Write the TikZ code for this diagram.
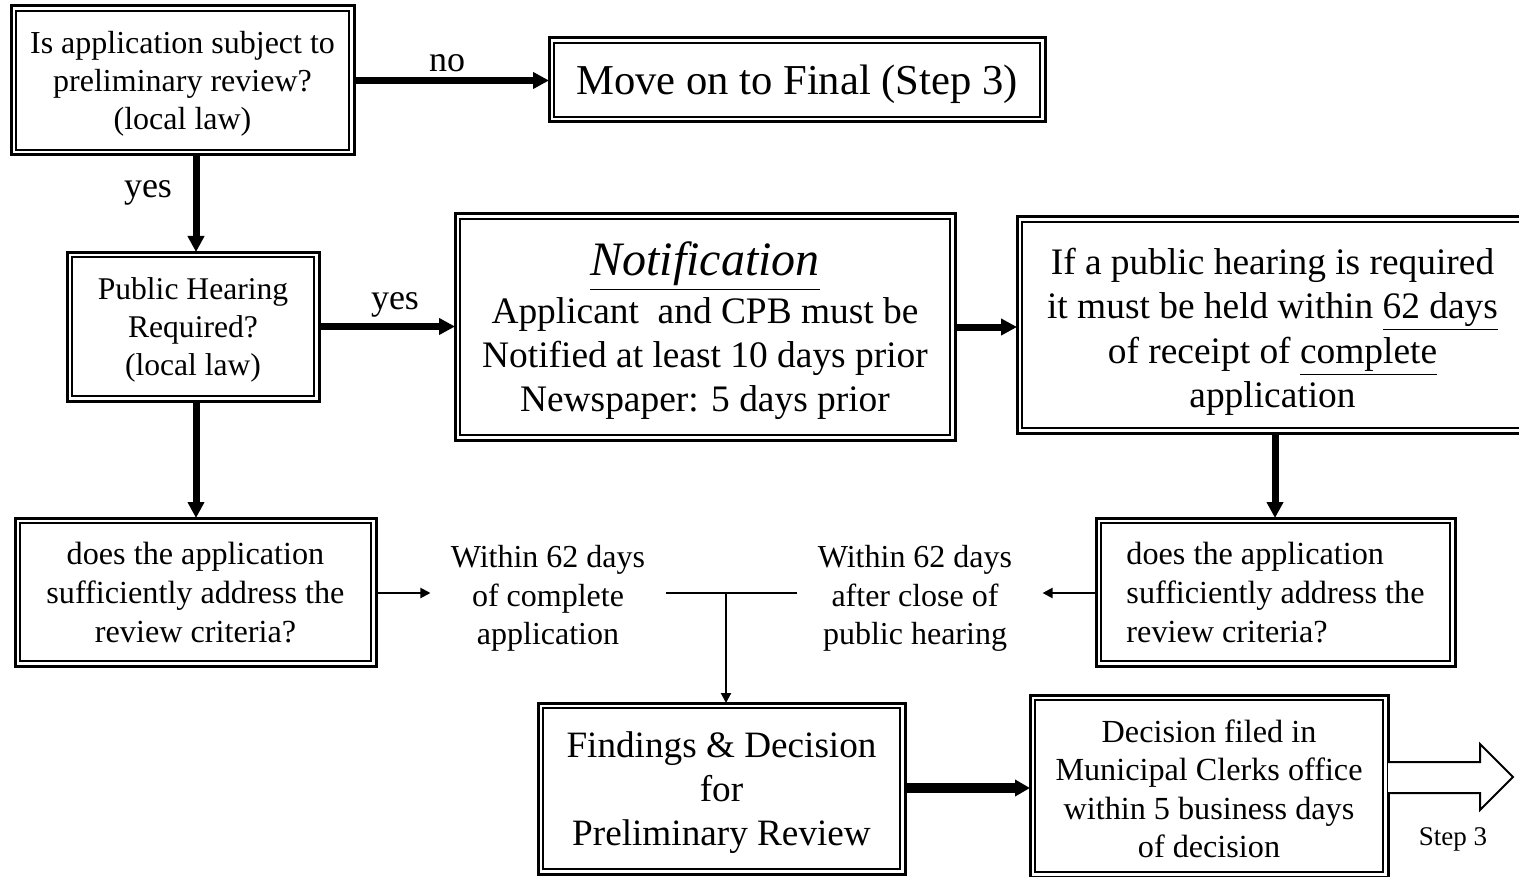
\documentclass[tikz,border=0pt]{standalone}
\usepackage{fontspec}
\setmainfont{Liberation Serif}
\usetikzlibrary{arrows.meta}

\newcommand\fs[2]{\fontsize{#1}{#2}\selectfont}

\begin{document}
\begin{tikzpicture}[x=0.5pt,y=-0.5pt,
  dbox/.style={draw, line width=1.5pt, inner sep=0pt, outer sep=0pt, align=center, text depth=0pt},
  wh/.style 2 args={minimum width=#1*0.5pt, minimum height=#2*0.5pt},
  innerline/.style={draw, line width=0.75pt},
  bigarrow/.style={line width=3.5pt, -{Triangle[length=8pt,width=8pt]}},
  hugearrow/.style={line width=5pt, -{Triangle[length=7.5pt,width=8pt]}},
  thinarrow/.style={line width=1pt, -{Triangle[length=5pt,width=5pt]}},
  lbl/.style={inner sep=0pt, align=center},
  note/.style={inner xsep=10pt, inner ysep=0pt, align=center, text depth=0pt, font=\fs{16}{19.25}}]

\clip (0,0) rectangle (1519,877);

% boxes
\node[dbox, wh={343}{149}, font=\fs{16}{19}] (A) at (182.5,80.5)
  {Is application subject to\\ preliminary review?\\ (local law)};
\node[dbox, wh={496}{84}, font=\fs{21.3}{24}] (B) at (797,80)
  {Move on to Final (Step 3)};
\node[dbox, wh={252}{149}, font=\fs{15.8}{19}] (C) at (193,326.5)
  {Public Hearing\\ Required?\\ (local law)};
\node[dbox, wh={500}{226}, font=\fs{18.7}{22}] (D) at (705,327)
  {{\fs{24}{26}\itshape\underline{Notification}}\\[2pt]
   Applicant\ \ and CPB must be\\ Notified at least 10 days prior\\ Newspaper: 5 days prior};
\node[dbox, wh={511}{216}, font=\fs{18.7}{22.2}] (E) at (1272.5,325)
  {\rule{0pt}{16pt}If a public hearing is required\\ it must be held within \underline{62 days}\\
   of receipt of \underline{complete}\\ application};
\node[dbox, wh={361}{148}, font=\fs{16.1}{19.5}] (G) at (195.5,592)
  {does the application\\ sufficiently address the\\ review criteria?};
\node[dbox, wh={359}{148}, font=\fs{16.1}{19.5}, align=left] (F) at (1275.5,592)
  {does the application\\ sufficiently address the\hspace*{10pt}\\ review criteria?};
\node[dbox, wh={367}{171}, font=\fs{18.6}{22}] (H) at (721.5,788.5)
  {Findings \& Decision\\ for\\ Preliminary Review};
\node[dbox, wh={358}{182}, font=\fs{16.1}{19.1}] (I) at (1209,786)
  {\rule{0pt}{14pt}Decision filed in\\ Municipal Clerks office\\ within 5 business days\\ of decision};

% inner lines of the double frames
\foreach \n in {A,B,C,D,E,F,G,H,I}
  \draw[innerline] ([shift={(5,5)}]\n.north west) rectangle ([shift={(-5,-5)}]\n.south east);

% deadline notes
\node[note] (L1) at (548,595) {Within 62 days\\ of complete\\ application};
\node[note] (L2) at (915,595) {Within 62 days\\ after close of\\ public hearing};

% labels on the decision arrows
\node[lbl, font=\fs{18}{20}] (no) at (447,63) {no};
\node[lbl, font=\fs{18}{20}] (yes1) at (148,193) {yes};
\node[lbl, font=\fs{18}{20}] (yes2) at (395,305) {yes};

% connectors
\draw[bigarrow] (A.east) -- (A.east -| B.west);
\draw[bigarrow] (A.south -| 196,0) -- (196,252 |- C.north);
\draw[bigarrow] (C.east) -- (C.east -| D.west);
\draw[bigarrow] (D.east) -- (D.east -| E.west);
\draw[bigarrow] (196,0 |- C.south) -- (196,0 |- G.north);
\draw[bigarrow] (1275,0 |- E.south) -- (1275,0 |- F.north);
\draw[thinarrow] (G.east |- 0,593) -- (L1.west |- 0,593);
\draw[thinarrow] (F.west |- 0,593) -- ([xshift=5pt]L2.east |- 0,593);
\coordinate (J) at (726,593);
\draw[line width=1pt] (L1.east |- J) -- (L2.west |- J);
\draw[thinarrow] (J) -- (J |- H.north);
\draw[hugearrow] (H.east |- 0,788) -- (I.west |- 0,788);

% hollow arrow towards step 3
\draw[line width=1pt, fill=white]
  (I.east |- 0,762) -- (1480,762) -- (1480,744) -- (1513,777)
  -- (1480,810) -- (1480,793) -- (I.east |- 0,793);
\node[lbl, font=\fs{13.5}{15}] (step) at (1453,839) {Step 3};

\end{tikzpicture}
\end{document}
